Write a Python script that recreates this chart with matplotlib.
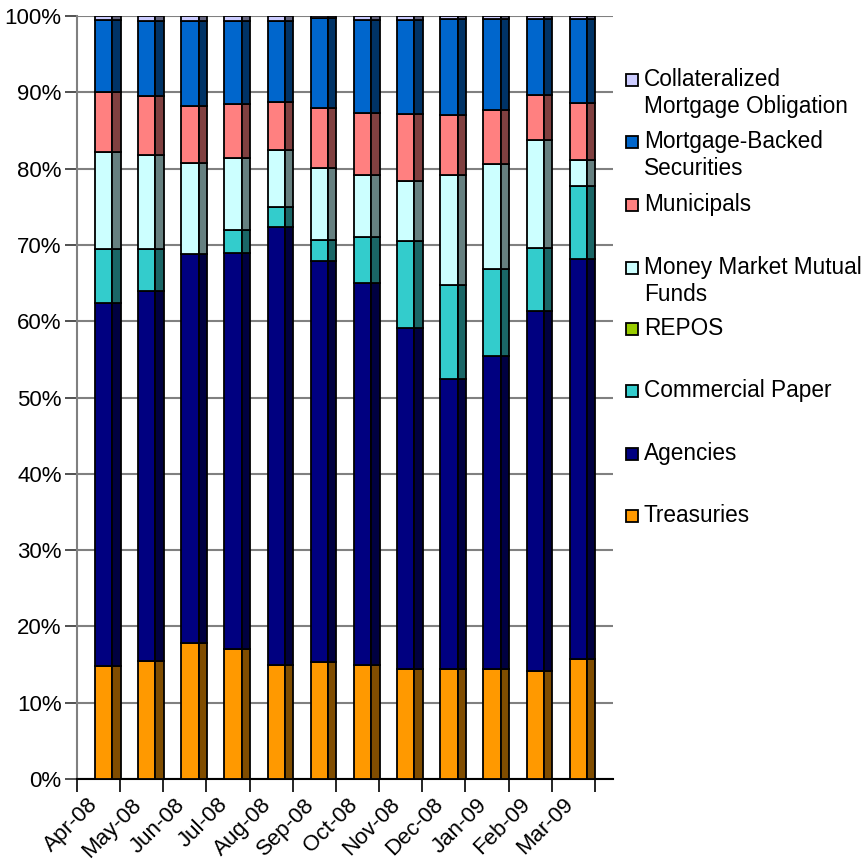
import matplotlib
matplotlib.use("Agg")
import matplotlib.pyplot as plt
import numpy as np
from matplotlib.patches import Rectangle
from matplotlib.ticker import FuncFormatter

plt.rcParams['font.family'] = ['Liberation Sans', 'DejaVu Sans']

months = ["Apr-08", "May-08", "Jun-08", "Jul-08", "Aug-08", "Sep-08",
          "Oct-08", "Nov-08", "Dec-08", "Jan-09", "Feb-09", "Mar-09"]

treasuries = [14.8, 15.4, 17.8, 17.1, 14.9, 15.3, 15.0, 14.4, 14.4, 14.4, 14.1, 15.7]
agencies = [47.6, 48.6, 51.0, 51.9, 57.5, 52.6, 50.0, 44.7, 38.0, 41.1, 47.3, 52.4]
commercial_paper = [7.1, 5.4, 0.0, 2.9, 2.6, 2.7, 6.1, 11.4, 12.3, 11.3, 8.2, 9.6]
repos = [0, 0, 0, 0, 0, 0, 0, 0, 0, 0, 0, 0]
mmmf = [12.7, 12.4, 11.9, 9.5, 7.5, 9.5, 8.0, 7.9, 14.4, 13.8, 14.2, 3.4]
municipals = [7.8, 7.7, 7.5, 7.1, 6.2, 7.9, 8.2, 8.7, 7.9, 7.1, 5.8, 7.5]
mbs = [9.5, 9.9, 11.1, 10.9, 10.7, 11.7, 12.2, 12.4, 12.6, 11.9, 10.0, 11.0]
cmo = [0.5, 0.6, 0.7, 0.6, 0.6, 0.3, 0.5, 0.5, 0.4, 0.4, 0.4, 0.4]

series_names = ["Treasuries", "Agencies", "Commercial Paper", "REPOS",
                "Money Market Mutual\nFunds", "Municipals",
                "Mortgage-Backed\nSecurities", "Collateralized\nMortgage Obligation"]
series_values = [treasuries, agencies, commercial_paper, repos, mmmf,
                 municipals, mbs, cmo]
front_colors = ["#FF9900", "#000080", "#33CCCC", "#99CC00", "#CCFFFF",
                "#FF8080", "#0066CC", "#CCCCFF"]

def darker(c, f=0.5):
    rgb = np.array(matplotlib.colors.to_rgb(c)) * f
    return rgb

fig = plt.figure(figsize=(8.66, 8.67), dpi=100)
L, R, B, T = 77 / 866, 613 / 866, 1 - 779 / 867, 1 - 16 / 867
ax = fig.add_axes([L, B, R - L, T - B])

x = np.arange(len(months))
bottom = np.zeros(len(months))
front_off, front_w, side_w = 0.417, 0.40, 0.195
for vals, col in zip(series_values, front_colors):
    v = np.array(vals, dtype=float)
    mask = v > 0
    ax.bar(x[mask] + front_off, v[mask], width=front_w, bottom=bottom[mask],
           align='edge', color=col, edgecolor='black', linewidth=1.3, zorder=3)
    ax.bar(x[mask] + front_off + front_w, v[mask], width=side_w, bottom=bottom[mask],
           align='edge', color=darker(col), edgecolor='black', linewidth=1.3, zorder=3)
    bottom += v

ax.set_xlim(0, 12.42)
ax.set_ylim(0, 100)
ax.set_yticks(np.arange(0, 101, 10))
ax.yaxis.set_major_formatter(FuncFormatter(lambda v, p: f"{int(v)}%"))
ax.set_xticks(np.arange(0, 13))
ax.set_xticklabels([])
ax.set_xticks(x + 0.25, minor=True)
ax.set_xticklabels(months, minor=True, rotation=45, ha='right',
                   rotation_mode='anchor', fontsize=16)
ax.tick_params(axis='x', which='minor', length=0, pad=11)
ax.tick_params(axis='x', which='major', length=9, width=1.2, color='black')
ax.tick_params(axis='y', length=9, width=1.2, color='#333333', labelsize=16, pad=2)

ax.yaxis.grid(True, color='#808080', linewidth=1.5, zorder=0)
ax.set_axisbelow(True)
for s in ['top', 'right']:
    ax.spines[s].set_visible(False)
ax.spines['left'].set_color('#808080')
ax.spines['left'].set_linewidth(1.5)
ax.spines['bottom'].set_color('black')
ax.spines['bottom'].set_linewidth(1.5)

# legend (reverse order, top to bottom)
leg_y = [80, 142, 205, 268, 329, 391, 454, 516]
for i, (name, col) in enumerate(zip(series_names[::-1], front_colors[::-1])):
    yc = leg_y[i]
    fig.patches.append(Rectangle((626 / 866, 1 - (yc + 6) / 867), 12 / 866, 12 / 867,
                                 transform=fig.transFigure, facecolor=col,
                                 edgecolor='black', linewidth=1.3))
    fig.text(644 / 866, 1 - (yc - 12) / 867, name, fontsize=16.3, va='top', ha='left',
             linespacing=1.2)

fig.savefig("out.png", dpi=100)
